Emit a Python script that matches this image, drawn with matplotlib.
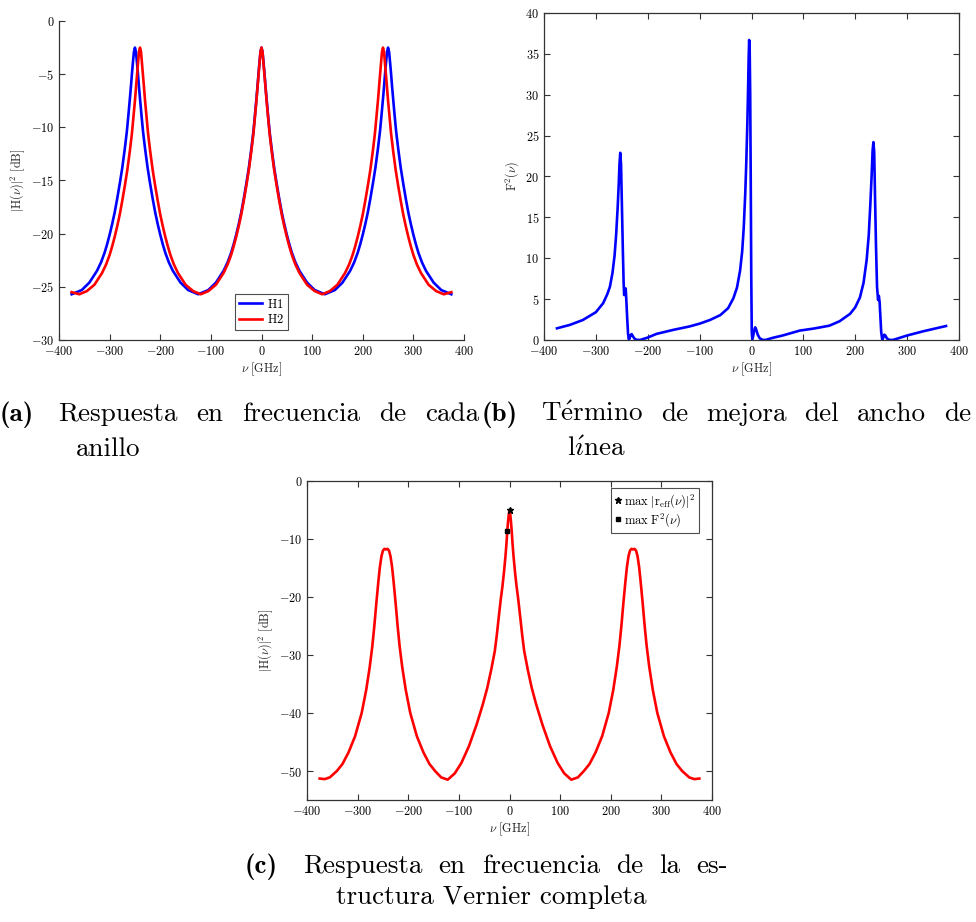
import matplotlib
matplotlib.use("Agg")
import matplotlib.pyplot as plt

plt.rcParams['font.family'] = 'serif'
plt.rcParams['font.serif'] = ['cmr10']
plt.rcParams['mathtext.fontset'] = 'cm'
plt.rcParams['axes.formatter.use_mathtext'] = True
plt.rcParams['axes.unicode_minus'] = True

# (a) response of each ring, dB
h1_x = [-375, -355, -340, -325, -317, -310, -305, -300, -295, -290, -285, -280, -275, -270, -266, -263,
        -260, -258, -256, -254, -252, -250, -248, -246, -244, -242, -240, -237, -234, -230, -225, -220,
        -215, -210, -205, -200, -195, -190, -183, -175, -160, -145, -125,
        -105, -90, -75, -67, -60, -55, -50, -45, -40, -35, -30, -25, -20, -16, -13, -10, -8, -6, -4, -2,
        0, 2, 4, 6, 8, 10, 13, 16, 20, 25, 30, 35, 40, 45, 50, 55, 60, 67, 75, 90, 105, 125,
        145, 160, 175, 183, 190, 195, 200, 205, 210, 215, 220, 225, 230, 234, 237, 240, 242, 244, 246,
        248, 250, 252, 254, 256, 258, 260, 263, 266, 270, 275, 280, 285, 290, 295, 300, 305, 310, 317,
        325, 340, 355, 375]
h1_db = [-25.7, -25.3, -24.6, -23.5, -22.7, -21.8, -21.0, -20.1, -19.1, -18.0, -16.7, -15.3, -13.8, -12.0, -10.4, -8.9,
         -7.3, -6.2, -5.0, -3.9, -2.9, -2.5, -2.9, -3.9, -5.0, -6.2, -7.3, -8.9, -10.4, -12.0, -13.8, -15.3,
         -16.7, -18.0, -19.1, -20.1, -21.0, -21.8, -22.7, -23.5, -24.6, -25.3, -25.7,
         -25.3, -24.6, -23.5, -22.7, -21.8, -21.0, -20.1, -19.1, -18.0, -16.7, -15.3, -13.8, -12.0, -10.4, -8.9, -7.3, -6.2, -5.0, -3.9, -2.9,
         -2.5, -2.9, -3.9, -5.0, -6.2, -7.3, -8.9, -10.4, -12.0, -13.8, -15.3, -16.7, -18.0, -19.1, -20.1, -21.0, -21.8, -22.7, -23.5, -24.6, -25.3, -25.7,
         -25.3, -24.6, -23.5, -22.7, -21.8, -21.0, -20.1, -19.1, -18.0, -16.7, -15.3, -13.8, -12.0, -10.4, -8.9, -7.3, -6.2, -5.0, -3.9,
         -2.9, -2.5, -2.9, -3.9, -5.0, -6.2, -7.3, -8.9, -10.4, -12.0, -13.8, -15.3, -16.7, -18.0, -19.1, -20.1, -21.0, -21.8, -22.7,
         -23.5, -24.6, -25.3, -25.7]

h2_x = [-375, -360, -345, -330, -315, -307, -300, -295, -290, -285, -280, -275, -270, -265, -260, -256, -253,
        -250, -248, -246, -244, -242, -240, -238, -236, -234, -232, -230, -227, -224, -220, -215, -210,
        -205, -200, -195, -190, -185, -180, -173, -165, -150, -135, -120,
        -105, -90, -75, -67, -60, -55, -50, -45, -40, -35, -30, -25, -20, -16, -13, -10, -8, -6, -4, -2,
        0, 2, 4, 6, 8, 10, 13, 16, 20, 25, 30, 35, 40, 45, 50, 55, 60, 67, 75, 90, 105, 120,
        135, 150, 165, 173, 180, 185, 190, 195, 200, 205, 210, 215, 220, 224, 227, 230, 232, 234, 236,
        238, 240, 242, 244, 246, 248, 250, 253, 256, 260, 265, 270, 275, 280, 285, 290, 295, 300, 307,
        315, 330, 345, 360, 375]
h2_db = [-25.5, -25.7, -25.4, -24.8, -23.7, -22.9, -22.0, -21.2, -20.3, -19.3, -18.2, -16.9, -15.5, -14.0, -12.2, -10.6, -9.1,
         -7.5, -6.3, -5.1, -4.0, -2.9, -2.5, -2.9, -4.0, -5.1, -6.3, -7.5, -9.1, -10.6, -12.2, -14.0, -15.5,
         -16.9, -18.2, -19.3, -20.3, -21.2, -22.0, -22.9, -23.7, -24.8, -25.4, -25.7,
         -25.4, -24.8, -23.7, -22.9, -22.0, -21.2, -20.3, -19.3, -18.2, -16.9, -15.5, -14.0, -12.2, -10.6, -9.1, -7.5, -6.3, -5.1, -4.0, -2.9,
         -2.5, -2.9, -4.0, -5.1, -6.3, -7.5, -9.1, -10.6, -12.2, -14.0, -15.5, -16.9, -18.2, -19.3, -20.3, -21.2, -22.0, -22.9, -23.7, -24.8, -25.4, -25.7,
         -25.4, -24.8, -23.7, -22.9, -22.0, -21.2, -20.3, -19.3, -18.2, -16.9, -15.5, -14.0, -12.2, -10.6, -9.1, -7.5, -6.3, -5.1, -4.0,
         -2.9, -2.5, -2.9, -4.0, -5.1, -6.3, -7.5, -9.1, -10.6, -12.2, -14.0, -15.5, -16.9, -18.2, -19.3, -20.3, -21.2, -22.0, -22.9,
         -23.7, -24.8, -25.4, -25.7, -25.5]

# (b) linewidth enhancement term F^2
f2_x = [-375, -350, -325, -300, -286, -278, -273, -268, -264, -261, -258, -256, -254.5, -253, -251.5, -250,
        -248, -246.5, -245.5, -244, -242.5, -241, -239.5, -238, -236.5, -235, -233, -231, -229, -226, -222,
        -215, -200, -183, -150, -120, -100, -80, -60, -45, -35, -28, -22, -18, -15, -12, -10, -8, -6.5,
        -5.5, -4.5, -3.5, -2.5, -1.5, -0.5, 0.5, 1.5, 3, 5, 7, 9, 12, 16, 22, 28, 40, 60, 93, 120, 150,
        170, 190, 200, 209, 216, 222, 226, 229, 231.5, 233.5, 235, 236.5, 238, 240, 242, 244, 245.5, 247,
        248.5, 250, 252, 254, 256, 258, 261, 265, 272, 280, 300, 330, 375]
f2_val = [1.43, 1.85, 2.45, 3.4, 4.5, 5.6, 6.5, 8.2, 10.3, 12.8, 16.2, 19.0, 21.5, 22.9, 21.5, 17.0,
          11.0, 7.0, 5.5, 5.8, 6.3, 4.5, 2.5, 0.8, 0.05, 0.2, 0.6, 0.72, 0.5, 0.2, 0.03,
          0.0, 0.3, 0.75, 1.25, 1.65, 2.0, 2.45, 3.05, 3.9, 5.1, 6.4, 8.5, 10.8, 13.7, 18.0, 21.8, 26.5, 31.0,
          34.5, 36.7, 35.5, 30.0, 20.0, 8.0, 1.0, 0.1, 0.4, 1.1, 1.55, 1.3, 0.65, 0.2, 0.0, 0.02, 0.25, 0.55, 1.15, 1.4, 1.75,
          2.3, 3.2, 4.0, 5.2, 7.0, 9.8, 12.8, 16.5, 20.0, 23.2, 24.2, 23.0, 18.0, 11.5, 6.5, 4.9, 5.4, 4.6,
          2.8, 1.0, 0.05, 0.3, 0.65, 0.55, 0.2, 0.02, 0.0, 0.15, 0.55, 1.05, 1.71]

# (c) full Vernier response, dB
vc_x = [-375, -365, -355, -341, -330, -318, -305, -292, -283, -276, -271, -267, -263, -259, -256, -253,
        -250, -247, -244, -241, -238, -235, -232, -229, -225, -221, -217, -212, -205, -196, -183, -170,
        -158, -147, -135, -122,
        -108, -95, -80, -65, -53, -44, -36, -29, -25, -21, -17, -14, -11, -8, -6, -4.5, -3, -1.5,
        0, 1.5, 3, 4.5, 6, 8, 11, 14, 17, 21, 25, 29, 36, 44, 53, 65, 80, 95, 108,
        122, 135, 147, 158, 170, 183, 196, 205, 212, 217, 221, 225, 229, 232, 235, 238, 241, 244, 247,
        250, 253, 256, 259, 263, 267, 271, 276, 283, 292, 305, 318, 330, 341, 355, 365, 375]
vc_db = [-51.3, -51.4, -51.1, -50.0, -48.8, -46.8, -44.0, -40.0, -36.0, -32.0, -28.5, -25.0, -21.0, -17.3, -14.8, -13.0,
         -12.0, -11.7, -11.8, -11.7, -12.0, -13.0, -14.8, -17.3, -21.0, -25.0, -28.5, -32.0, -36.0, -40.0, -44.0, -46.8,
         -48.8, -50.0, -51.1, -51.5,
         -50.4, -48.6, -45.7, -42.0, -38.6, -35.7, -32.5, -29.3, -26.5, -23.3, -20.2, -18.2, -15.8, -13.0, -10.8, -8.8, -7.1, -5.8,
         -5.0, -5.8, -7.1, -8.8, -10.8, -13.0, -15.8, -18.2, -20.2, -23.3, -26.5, -29.3, -32.5, -35.7, -38.6, -42.0, -45.7, -48.6, -50.4,
         -51.5, -51.1, -50.0, -48.8, -46.8, -44.0, -40.0, -36.0, -32.0, -28.5, -25.0, -21.0, -17.3, -14.8, -13.0, -12.0, -11.7, -11.8, -11.7,
         -12.0, -13.0, -14.8, -17.3, -21.0, -25.0, -28.5, -32.0, -36.0, -40.0, -44.0, -46.8, -48.8, -50.0, -51.1, -51.4, -51.3]

reff_max = (0.0, -5.05)
f2_max = (-4.3, -8.7)

xticks = [-400, -300, -200, -100, 0, 100, 200, 300, 400]
W, H = 976, 922
AX_COL = '#333333'
LW = 1.9
FS_TICK = 8.8


def style_axes(ax, box=True):
    for side in ['left', 'bottom', 'top', 'right']:
        ax.spines[side].set_color(AX_COL)
        ax.spines[side].set_linewidth(0.9)
    if not box:
        ax.spines['top'].set_visible(False)
        ax.spines['right'].set_visible(False)
    ax.tick_params(direction='in', length=4, width=0.8, color=AX_COL, labelsize=FS_TICK,
                   top=box, right=box, pad=3.5)
    ax.set_xlim(-400, 400)
    ax.set_xticks(xticks)
    ax.set_xlabel(r'$\nu\ [\mathrm{GHz}]$', fontsize=FS_TICK, labelpad=2, color='#222222')


def add_axes(l, t, r, b):
    return fig.add_axes([l / W, 1 - b / H, (r - l) / W, (b - t) / H])


def justify(words, x0, x1, y, fs):
    # spread the words of one caption line between x0 and x1 (pixels)
    rend = fig.canvas.get_renderer()
    texts = [fig.text(0, 1 - y / H, w, fontsize=fs, va='baseline', ha='left') for w in words]
    widths = [t.get_window_extent(rend).width for t in texts]
    gap = (x1 - x0 - sum(widths)) / max(len(words) - 1, 1)
    x = x0
    for t, w in zip(texts, widths):
        t.set_x(x / W)
        x += w + gap


fig = plt.figure(figsize=(W / 100, H / 100), dpi=100)

# (a)
ax1 = add_axes(59, 21, 464, 340)
ax1.plot(h1_x, h1_db, color='#0000ff', lw=LW, label=r'$\mathrm{H1}$')
ax1.plot(h2_x, h2_db, color='#ff0000', lw=LW, label=r'$\mathrm{H2}$')
ax1.set_ylim(-30, 0)
ax1.set_yticks([0, -5, -10, -15, -20, -25, -30])
style_axes(ax1, box=False)
ax1.set_ylabel(r'$|\mathrm{H}(\nu)|^2\ [\mathrm{dB}]$', fontsize=FS_TICK, labelpad=3, color='#222222')
leg = ax1.legend(loc='lower center', bbox_to_anchor=(0.5, 0.012), fontsize=9, frameon=True,
                 fancybox=False, edgecolor='#222222', handlelength=1.9, handletextpad=0.4,
                 borderpad=0.3, labelspacing=0.2)
leg.get_frame().set_linewidth(0.8)

# (b)
ax2 = add_axes(544, 13, 959, 340)
ax2.plot(f2_x, f2_val, color='#0000ff', lw=LW)
ax2.set_ylim(0, 40)
ax2.set_yticks(range(0, 45, 5))
style_axes(ax2)
ax2.set_ylabel(r'$\mathrm{F}^2(\nu)$', fontsize=FS_TICK, labelpad=3, color='#222222')

# (c)
ax3 = add_axes(307, 481, 712, 800)
ax3.plot(vc_x, vc_db, color='#ff0000', lw=LW)
ax3.plot([reff_max[0]], [reff_max[1]], '*', color='black', ms=4.5, ls='none',
         label=r'$\max\ |\mathrm{r}_{\mathrm{eff}}(\nu)|^2$')
ax3.plot([f2_max[0]], [f2_max[1]], 's', color='black', ms=3.2, ls='none',
         label=r'$\max\ \mathrm{F}^2(\nu)$')
ax3.set_ylim(-55, 0)
ax3.set_yticks([0, -10, -20, -30, -40, -50])
style_axes(ax3)
ax3.set_ylabel(r'$|\mathrm{H}(\nu)|^2\ [\mathrm{dB}]$', fontsize=FS_TICK, labelpad=3, color='#222222')
leg3 = ax3.legend(loc='upper right', bbox_to_anchor=(0.975, 0.985), fontsize=9, frameon=True,
                  fancybox=False, edgecolor='#222222', handlelength=0.5, handletextpad=0.25,
                  borderpad=0.3, labelspacing=0.1, numpoints=1, borderaxespad=0.2)
leg3.get_frame().set_linewidth(0.8)

# captions
fs_cap = 19.5
fig.text(0 / W, 1 - 421 / H, '(a)', family='cmb10', fontsize=fs_cap, va='baseline')
justify(['Respuesta', 'en', 'frecuencia', 'de', 'cada'], 58, 479, 421, fs_cap)
fig.text(76 / W, 1 - 456 / H, 'anillo', fontsize=fs_cap, va='baseline')

fig.text(482 / W, 1 - 421 / H, '(b)', family='cmb10', fontsize=fs_cap, va='baseline')
justify([r'$\mathrm{T\acute{e}rmino}$', 'de', 'mejora', 'del', 'ancho', 'de'], 541, 971, 421, fs_cap)
fig.text(567 / W, 1 - 456 / H, r'$\mathrm{l\acute{\imath}nea}$', fontsize=fs_cap, va='baseline')

fig.text(245 / W, 1 - 873 / H, '(c)', family='cmb10', fontsize=fs_cap, va='baseline')
justify(['Respuesta', 'en', 'frecuencia', 'de', 'la', 'es-'], 303, 728, 873, fs_cap)
fig.text(491 / W, 1 - 904 / H, 'tructura Vernier completa', fontsize=fs_cap, va='baseline', ha='center')

fig.savefig('out.png', dpi=100)
